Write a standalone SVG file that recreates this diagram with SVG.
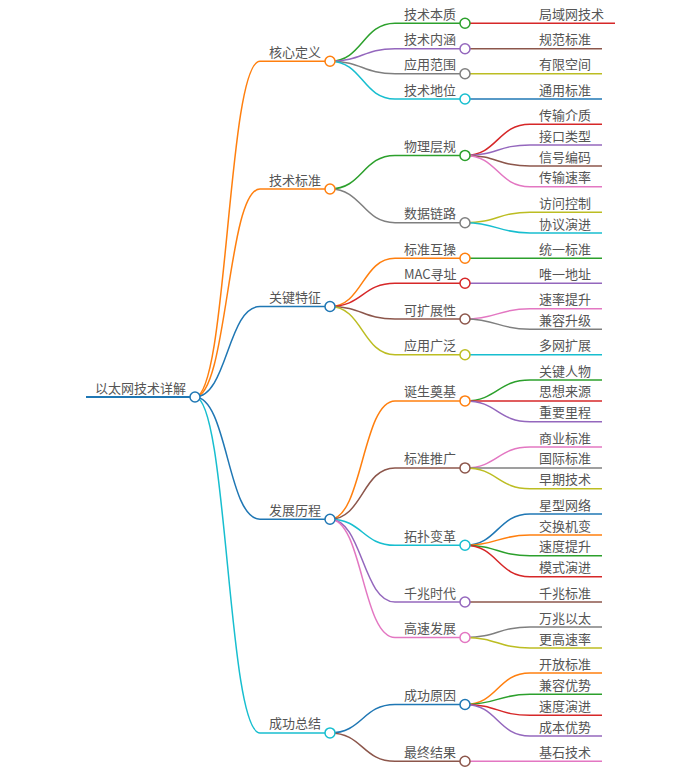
<svg xmlns="http://www.w3.org/2000/svg" width="693" height="772" viewBox="0 0 693 772">
<style>
text{font-family:"Noto Sans CJK SC","Noto Sans",sans-serif;font-size:13px;fill:#555}
path{fill:none;stroke-width:1.5}
circle{fill:#fff;stroke-width:1.5}
.root{stroke-width:2}
.bl{stroke:#1f77b4}.or{stroke:#ff7f0e}.gr{stroke:#2ca02c}.rd{stroke:#d62728}.pu{stroke:#9467bd}
.br{stroke:#8c564b}.pk{stroke:#e377c2}.gy{stroke:#7f7f7f}.ol{stroke:#bcbd22}.cy{stroke:#17becf}
</style>
<g id="connectors">
<path class="or" d="M195 397C227.5 397 227.5 61.2 260 61.2"/>
<path class="or" d="M195 397C227.5 397 227.5 189 260 189"/>
<path class="bl" d="M195 397C227.5 397 227.5 306.5 260 306.5"/>
<path class="bl" d="M195 397C227.5 397 227.5 519.2 260 519.2"/>
<path class="cy" d="M195 397C227.5 397 227.5 732.9 260 732.9"/>
<path class="gr" d="M330 61.2C362.5 61.2 362.5 23.3 395 23.3"/>
<path class="pu" d="M330 61.2C362.5 61.2 362.5 48.7 395 48.7"/>
<path class="gy" d="M330 61.2C362.5 61.2 362.5 73.7 395 73.7"/>
<path class="cy" d="M330 61.2C362.5 61.2 362.5 99 395 99"/>
<path class="gr" d="M330 189C362.5 189 362.5 155.4 395 155.4"/>
<path class="gy" d="M330 189C362.5 189 362.5 222.7 395 222.7"/>
<path class="or" d="M330 306.5C362.5 306.5 362.5 258.3 395 258.3"/>
<path class="rd" d="M330 306.5C362.5 306.5 362.5 283.3 395 283.3"/>
<path class="br" d="M330 306.5C362.5 306.5 362.5 319 395 319"/>
<path class="ol" d="M330 306.5C362.5 306.5 362.5 354.7 395 354.7"/>
<path class="or" d="M330 519.2C362.5 519.2 362.5 400.9 395 400.9"/>
<path class="br" d="M330 519.2C362.5 519.2 362.5 467.9 395 467.9"/>
<path class="cy" d="M330 519.2C362.5 519.2 362.5 545.3 395 545.3"/>
<path class="pu" d="M330 519.2C362.5 519.2 362.5 602 395 602"/>
<path class="pk" d="M330 519.2C362.5 519.2 362.5 637.5 395 637.5"/>
<path class="bl" d="M330 732.9C362.5 732.9 362.5 704.5 395 704.5"/>
<path class="br" d="M330 732.9C362.5 732.9 362.5 761.3 395 761.3"/>
<path class="rd" d="M465 23.3H530"/>
<path class="br" d="M465 48.7H530"/>
<path class="ol" d="M465 73.7H530"/>
<path class="bl" d="M465 99H530"/>
<path class="rd" d="M465 155.4C497.5 155.4 497.5 124.3 530 124.3"/>
<path class="pu" d="M465 155.4C497.5 155.4 497.5 145 530 145"/>
<path class="br" d="M465 155.4C497.5 155.4 497.5 166 530 166"/>
<path class="pk" d="M465 155.4C497.5 155.4 497.5 186.7 530 186.7"/>
<path class="ol" d="M465 222.7C497.5 222.7 497.5 212.3 530 212.3"/>
<path class="cy" d="M465 222.7C497.5 222.7 497.5 233 530 233"/>
<path class="gr" d="M465 258.3H530"/>
<path class="pu" d="M465 283.3H530"/>
<path class="pk" d="M465 319C497.5 319 497.5 308.7 530 308.7"/>
<path class="gy" d="M465 319C497.5 319 497.5 329.3 530 329.3"/>
<path class="cy" d="M465 354.7H530"/>
<path class="gr" d="M465 400.9C497.5 400.9 497.5 380 530 380"/>
<path class="rd" d="M465 400.9H530"/>
<path class="pu" d="M465 400.9C497.5 400.9 497.5 421.7 530 421.7"/>
<path class="pk" d="M465 467.9C497.5 467.9 497.5 447 530 447"/>
<path class="gy" d="M465 467.9H530"/>
<path class="ol" d="M465 467.9C497.5 467.9 497.5 488.7 530 488.7"/>
<path class="bl" d="M465 545.3C497.5 545.3 497.5 514 530 514"/>
<path class="or" d="M465 545.3C497.5 545.3 497.5 535 530 535"/>
<path class="gr" d="M465 545.3C497.5 545.3 497.5 555.7 530 555.7"/>
<path class="rd" d="M465 545.3C497.5 545.3 497.5 576.7 530 576.7"/>
<path class="br" d="M465 602H530"/>
<path class="gy" d="M465 637.5C497.5 637.5 497.5 627 530 627"/>
<path class="ol" d="M465 637.5C497.5 637.5 497.5 648 530 648"/>
<path class="or" d="M465 704.5C497.5 704.5 497.5 673 530 673"/>
<path class="gr" d="M465 704.5C497.5 704.5 497.5 694.3 530 694.3"/>
<path class="rd" d="M465 704.5C497.5 704.5 497.5 715.3 530 715.3"/>
<path class="pu" d="M465 704.5C497.5 704.5 497.5 736 530 736"/>
<path class="pk" d="M465 761.3H530"/>
</g>
<g id="n-root"><path class="bl root" d="M86 397H195"/><circle class="bl" cx="195" cy="397" r="5"/><text x="95" y="392.5">以太网技术详解</text></g>
<g id="n1"><path class="or" d="M260 61.2H330"/><circle class="or" cx="330" cy="61.2" r="5"/><text x="269" y="56.7">核心定义</text></g>
<g id="n2"><path class="or" d="M260 189H330"/><circle class="or" cx="330" cy="189" r="5"/><text x="269" y="184.5">技术标准</text></g>
<g id="n3"><path class="bl" d="M260 306.5H330"/><circle class="bl" cx="330" cy="306.5" r="5"/><text x="269" y="302">关键特征</text></g>
<g id="n4"><path class="bl" d="M260 519.2H330"/><circle class="bl" cx="330" cy="519.2" r="5"/><text x="269" y="514.7">发展历程</text></g>
<g id="n5"><path class="cy" d="M260 732.9H330"/><circle class="cy" cx="330" cy="732.9" r="5"/><text x="269" y="728.4">成功总结</text></g>
<g id="n1-1"><path class="gr" d="M395 23.3H465"/><circle class="gr" cx="465" cy="23.3" r="5"/><text x="404" y="18.8">技术本质</text></g>
<g id="n1-2"><path class="pu" d="M395 48.7H465"/><circle class="pu" cx="465" cy="48.7" r="5"/><text x="404" y="44.2">技术内涵</text></g>
<g id="n1-3"><path class="gy" d="M395 73.7H465"/><circle class="gy" cx="465" cy="73.7" r="5"/><text x="404" y="69.2">应用范围</text></g>
<g id="n1-4"><path class="cy" d="M395 99H465"/><circle class="cy" cx="465" cy="99" r="5"/><text x="404" y="94.5">技术地位</text></g>
<g id="n2-1"><path class="gr" d="M395 155.4H465"/><circle class="gr" cx="465" cy="155.4" r="5"/><text x="404" y="150.9">物理层规</text></g>
<g id="n2-2"><path class="gy" d="M395 222.7H465"/><circle class="gy" cx="465" cy="222.7" r="5"/><text x="404" y="218.2">数据链路</text></g>
<g id="n3-1"><path class="or" d="M395 258.3H465"/><circle class="or" cx="465" cy="258.3" r="5"/><text x="404" y="253.8">标准互操</text></g>
<g id="n3-2"><path class="rd" d="M395 283.3H465"/><circle class="rd" cx="465" cy="283.3" r="5"/><text x="404" y="278.8">MAC寻址</text></g>
<g id="n3-3"><path class="br" d="M395 319H465"/><circle class="br" cx="465" cy="319" r="5"/><text x="404" y="314.5">可扩展性</text></g>
<g id="n3-4"><path class="ol" d="M395 354.7H465"/><circle class="ol" cx="465" cy="354.7" r="5"/><text x="404" y="350.2">应用广泛</text></g>
<g id="n4-1"><path class="or" d="M395 400.9H465"/><circle class="or" cx="465" cy="400.9" r="5"/><text x="404" y="396.4">诞生奠基</text></g>
<g id="n4-2"><path class="br" d="M395 467.9H465"/><circle class="br" cx="465" cy="467.9" r="5"/><text x="404" y="463.4">标准推广</text></g>
<g id="n4-3"><path class="cy" d="M395 545.3H465"/><circle class="cy" cx="465" cy="545.3" r="5"/><text x="404" y="540.8">拓扑变革</text></g>
<g id="n4-4"><path class="pu" d="M395 602H465"/><circle class="pu" cx="465" cy="602" r="5"/><text x="404" y="597.5">千兆时代</text></g>
<g id="n4-5"><path class="pk" d="M395 637.5H465"/><circle class="pk" cx="465" cy="637.5" r="5"/><text x="404" y="633">高速发展</text></g>
<g id="n5-1"><path class="bl" d="M395 704.5H465"/><circle class="bl" cx="465" cy="704.5" r="5"/><text x="404" y="700">成功原因</text></g>
<g id="n5-2"><path class="br" d="M395 761.3H465"/><circle class="br" cx="465" cy="761.3" r="5"/><text x="404" y="756.8">最终结果</text></g>
<g id="leaf-1"><path class="rd" d="M530 23.3H615"/><text x="539" y="18.8">局域网技术</text></g>
<g id="leaf-2"><path class="br" d="M530 48.7H602"/><text x="539" y="44.2">规范标准</text></g>
<g id="leaf-3"><path class="ol" d="M530 73.7H602"/><text x="539" y="69.2">有限空间</text></g>
<g id="leaf-4"><path class="bl" d="M530 99H602"/><text x="539" y="94.5">通用标准</text></g>
<g id="leaf-5"><path class="rd" d="M530 124.3H602"/><text x="539" y="119.8">传输介质</text></g>
<g id="leaf-6"><path class="pu" d="M530 145H602"/><text x="539" y="140.5">接口类型</text></g>
<g id="leaf-7"><path class="br" d="M530 166H602"/><text x="539" y="161.5">信号编码</text></g>
<g id="leaf-8"><path class="pk" d="M530 186.7H602"/><text x="539" y="182.2">传输速率</text></g>
<g id="leaf-9"><path class="ol" d="M530 212.3H602"/><text x="539" y="207.8">访问控制</text></g>
<g id="leaf-10"><path class="cy" d="M530 233H602"/><text x="539" y="228.5">协议演进</text></g>
<g id="leaf-11"><path class="gr" d="M530 258.3H602"/><text x="539" y="253.8">统一标准</text></g>
<g id="leaf-12"><path class="pu" d="M530 283.3H602"/><text x="539" y="278.8">唯一地址</text></g>
<g id="leaf-13"><path class="pk" d="M530 308.7H602"/><text x="539" y="304.2">速率提升</text></g>
<g id="leaf-14"><path class="gy" d="M530 329.3H602"/><text x="539" y="324.8">兼容升级</text></g>
<g id="leaf-15"><path class="cy" d="M530 354.7H602"/><text x="539" y="350.2">多网扩展</text></g>
<g id="leaf-16"><path class="gr" d="M530 380H602"/><text x="539" y="375.5">关键人物</text></g>
<g id="leaf-17"><path class="rd" d="M530 400.9H602"/><text x="539" y="396.4">思想来源</text></g>
<g id="leaf-18"><path class="pu" d="M530 421.7H602"/><text x="539" y="417.2">重要里程</text></g>
<g id="leaf-19"><path class="pk" d="M530 447H602"/><text x="539" y="442.5">商业标准</text></g>
<g id="leaf-20"><path class="gy" d="M530 467.9H602"/><text x="539" y="463.4">国际标准</text></g>
<g id="leaf-21"><path class="ol" d="M530 488.7H602"/><text x="539" y="484.2">早期技术</text></g>
<g id="leaf-22"><path class="bl" d="M530 514H602"/><text x="539" y="509.5">星型网络</text></g>
<g id="leaf-23"><path class="or" d="M530 535H602"/><text x="539" y="530.5">交换机变</text></g>
<g id="leaf-24"><path class="gr" d="M530 555.7H602"/><text x="539" y="551.2">速度提升</text></g>
<g id="leaf-25"><path class="rd" d="M530 576.7H602"/><text x="539" y="572.2">模式演进</text></g>
<g id="leaf-26"><path class="br" d="M530 602H602"/><text x="539" y="597.5">千兆标准</text></g>
<g id="leaf-27"><path class="gy" d="M530 627H602"/><text x="539" y="622.5">万兆以太</text></g>
<g id="leaf-28"><path class="ol" d="M530 648H602"/><text x="539" y="643.5">更高速率</text></g>
<g id="leaf-29"><path class="or" d="M530 673H602"/><text x="539" y="668.5">开放标准</text></g>
<g id="leaf-30"><path class="gr" d="M530 694.3H602"/><text x="539" y="689.8">兼容优势</text></g>
<g id="leaf-31"><path class="rd" d="M530 715.3H602"/><text x="539" y="710.8">速度演进</text></g>
<g id="leaf-32"><path class="pu" d="M530 736H602"/><text x="539" y="731.5">成本优势</text></g>
<g id="leaf-33"><path class="pk" d="M530 761.3H602"/><text x="539" y="756.8">基石技术</text></g>
</svg>
